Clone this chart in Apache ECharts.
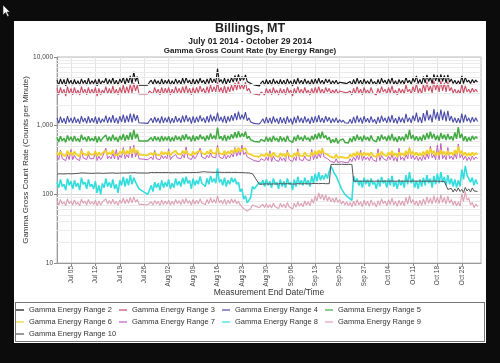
<!DOCTYPE html>
<html><head><meta charset="utf-8">
<script src="https://cdn.jsdelivr.net/npm/echarts@6/dist/echarts.min.js"></script>
<style>
html,body{margin:0;padding:0;background:#0c0c0c;width:500px;height:363px;overflow:hidden;}
#panel{position:absolute;left:14px;top:21px;width:472px;height:322px;background:#fff;}
#legbox{position:absolute;left:15px;top:302px;width:468px;height:38px;border:1px solid #777;}
#c{position:absolute;left:0;top:0;width:500px;height:363px;}
#cur{position:absolute;left:2px;top:4px;}
</style>
</head><body>
<div id="panel"></div><div id="legbox"></div>
<svg id="cur" width="10" height="14"><polygon points="1,1 1,11 3.5,8.5 5.5,12.5 7,11.8 5,8 8,8" fill="#fff" stroke="#222" stroke-width="0.6"/></svg>
<div id="c"></div>
<script>
const seriesNames = ['Gamma Energy Range 2','Gamma Energy Range 3','Gamma Energy Range 4','Gamma Energy Range 5','Gamma Energy Range 6','Gamma Energy Range 7','Gamma Energy Range 8','Gamma Energy Range 9','Gamma Energy Range 10'];
const seriesColors = ['#111111','#cc4d66','#4a4aa8','#44aa44','#f2d02a','#c060c0','#33dddd','#dda0b4','#555555'];
const seriesWidths = [1.1,1.1,1.1,1.5,1.8,1,1.6,1.1,1];
const seriesZ = [2,3,4,5,8,7,9,10,11];
const tickLabels = ['Jul 05','Jul 12','Jul 19','Jul 26','Aug 02','Aug 09','Aug 16','Aug 23','Aug 30','Sep 06','Sep 13','Sep 20','Sep 27','Oct 04','Oct 11','Oct 18','Oct 25'];
const yTicks = [10,100,1000,10000];
const minorGrid = [20,30,40,50,60,70,80,90,200,300,400,500,600,700,800,900,2000,3000,4000,5000,6000,7000,8000,9000];

// half-day samples starting Jul 01 2014 00:00
const r2 = [
4600,3900,4800,4000,4700,3800,4900,4100,4600,3900,
4700,4000,4500,3900,4800,4100,4600,3900,4900,4000,
4500,4100,4700,3800,4800,4000,4500,4200,4900,4000,
4700,4100,5000,4000,4600,3900,4800,4200,5100,4000,
4900,4200,5300,4100,6100,4400,5200,3900,null,null,
null,null,3900,4300,4600,4000,4700,4100,4500,3900,
4800,4000,4600,4100,4700,3900,4500,4000,4800,4100,
4600,4000,4900,4100,5000,4200,4600,3900,4800,4000,
4700,4100,4900,4200,4600,4000,4800,4100,5000,4200,
4800,4200,6800,4300,4700,4100,4900,4000,4800,4200,
5000,4300,5400,4400,5600,4500,5200,4600,5500,4400,
4600,4100,4300,3900,null,null,3800,4200,4500,3900,
4700,4000,4600,3900,4800,4100,4500,3900,4700,4000,
4600,3900,4800,4100,4500,3800,4700,4000,4900,4100,
4600,4000,4800,4100,4500,3900,4700,4000,4800,4100,
4900,4100,4600,4000,4800,4200,4700,4000,4500,4100,
4600,4000,4300,4100,4200,4000,4100,4000,4400,3900,
4700,4000,4900,4100,4600,3900,4800,4100,4500,4000,
4800,4100,4400,3900,4700,4000,4900,4200,4600,4000,
4800,4100,5000,4000,4500,3900,4700,4100,4600,4000,
5100,4200,4600,4000,4900,4300,5300,4100,4700,4000,
5200,4200,5500,4400,5100,4100,5600,4500,5400,4300,
5600,4400,5400,4200,5500,4300,4800,4100,4600,4000,
4500,4000,5300,4100,5100,4300,4600,4100,4700,4200,
4600,4300];
const r3 = [
3500,2800,3600,2900,3400,2700,3700,2900,3500,2800,
3600,2900,3300,2800,3700,3000,3400,2800,3600,2900,
3400,2900,3600,2700,3500,2800,3300,3000,3700,2900,
3500,2900,3800,2900,3400,2800,3600,3000,3900,2900,
3700,3000,4000,3000,4200,3200,3900,2900,null,null,
null,null,2900,3200,3400,2900,3600,3000,3400,2800,
3600,2900,3500,3000,3600,2800,3400,2900,3700,3000,
3500,2900,3700,3000,3800,3000,3500,2800,3600,2900,
3600,3000,3800,3100,3500,2900,3700,3000,3900,3100,
3700,3100,4300,3100,3600,3000,3800,2900,3700,3100,
3900,3200,4200,3300,4400,3400,4000,3400,4300,3200,
3500,3000,3200,2900,null,null,2800,3100,3300,2800,
3500,2900,3400,2800,3600,3000,3300,2800,3500,2900,
3400,2800,3600,3000,3300,2700,3500,2900,3700,3000,
3400,2900,3600,3000,3300,2800,3500,2900,3600,3000,
3700,3000,3400,2900,3600,3100,3500,2900,3300,3000,
3400,2900,3200,3000,3100,2900,3000,2900,3200,2800,
3500,2900,3700,3000,3400,2800,3600,3000,3300,2900,
3600,3000,3200,2800,3500,2900,3700,3100,3400,2900,
3600,3000,3800,2900,3300,2800,3500,3000,3400,2900,
3900,3100,3400,2900,3700,3100,4100,3000,3500,2900,
4000,3100,4400,3200,3800,3000,4500,3300,4100,3100,
4500,3200,4200,3100,4400,3200,3600,3000,3400,2900,
3300,2900,4000,3000,3800,3100,3400,3000,3500,3100,
3400,3100];
const r4 = [
1300,1080,1350,1100,1280,1060,1380,1120,1300,1090,
1340,1100,1260,1070,1380,1130,1290,1080,1360,1100,
1280,1110,1350,1060,1320,1090,1260,1130,1400,1100,
1330,1110,1420,1100,1300,1070,1370,1140,1450,1100,
1400,1130,1500,1120,1480,1180,1420,1100,null,null,
null,null,1080,1180,1280,1100,1340,1120,1290,1080,
1360,1100,1310,1120,1350,1080,1290,1100,1380,1130,
1300,1100,1400,1130,1420,1150,1320,1070,1370,1100,
1340,1130,1410,1160,1310,1100,1380,1120,1450,1160,
1380,1150,1550,1160,1340,1120,1390,1090,1360,1150,
1420,1180,1520,1200,1600,1230,1450,1240,1580,1180,
1300,1130,1200,1080,null,null,1060,1150,1260,1080,
1330,1090,1300,1070,1360,1120,1270,1060,1330,1090,
1300,1060,1370,1110,1270,1040,1340,1090,1400,1120,
1300,1090,1370,1120,1270,1060,1340,1100,1370,1120,
1420,1120,1300,1100,1380,1150,1330,1090,1270,1120,
1310,1100,1230,1120,1200,1100,1170,1090,1240,1070,
1340,1090,1400,1120,1310,1070,1380,1130,1280,1100,
1370,1120,1240,1060,1340,1100,1400,1150,1300,1100,
1370,1120,1430,1100,1290,1070,1350,1120,1310,1090,
1480,1140,1310,1100,1400,1170,1550,1120,1340,1100,
1520,1150,1680,1200,1450,1120,1750,1230,1580,1170,
1720,1200,1600,1150,1650,1180,1380,1120,1310,1100,
1280,1090,1500,1120,1450,1160,1300,1110,1330,1140,
1300,1150];
const r5 = [
680,580,700,600,660,570,720,610,690,590,
710,600,650,580,740,620,680,590,700,600,
660,600,700,570,690,590,650,610,730,600,
690,600,740,610,680,580,710,620,760,600,
730,620,800,620,870,650,760,600,null,null,
null,null,600,640,670,600,700,610,680,590,
710,600,690,610,700,590,680,600,720,620,
690,600,730,620,750,630,690,590,720,600,
700,620,740,640,690,600,720,620,770,640,
720,630,940,640,700,610,730,600,710,630,
750,650,800,660,830,680,770,690,820,650,
700,620,640,590,null,null,580,630,670,590,
690,590,670,580,710,610,660,580,700,600,
670,580,710,610,650,570,690,600,730,620,
680,600,720,620,670,590,710,620,750,640,
780,650,820,660,720,620,680,560,630,570,
660,550,610,580,640,570,600,560,660,580,
700,600,740,620,690,590,720,620,680,600,
720,620,650,580,700,600,740,630,690,600,
720,610,760,600,680,580,700,610,690,600,
760,630,870,640,730,610,700,600,690,600,
740,620,780,640,820,650,760,620,720,610,
780,640,740,620,760,630,700,610,800,640,
950,660,760,600,700,590,680,600,710,630,
690,650];
const r6 = [
410,370,420,380,400,360,430,380,410,370,
420,380,400,360,430,390,410,370,420,380,
400,380,420,360,410,370,400,390,430,380,
410,380,440,380,400,370,420,390,450,380,
430,390,460,390,480,400,440,380,null,null,
null,null,370,390,400,370,410,380,400,370,
420,380,410,380,420,370,400,380,430,390,
410,380,430,390,440,390,410,370,420,380,
410,390,430,400,410,380,420,390,450,400,
420,390,480,400,410,380,430,380,420,390,
440,400,460,410,480,420,450,430,470,400,
410,380,380,360,null,null,350,380,400,360,
400,360,390,350,410,370,390,350,400,360,
390,350,410,370,380,350,400,360,420,370,
390,360,410,370,390,360,410,370,430,380,
440,390,460,400,420,380,400,350,370,340,
380,340,360,350,370,340,350,340,380,350,
400,360,420,370,400,360,410,370,400,360,
410,370,380,350,400,360,420,380,400,360,
410,370,430,360,400,350,410,370,400,360,
430,380,470,380,420,370,410,360,400,360,
420,370,440,380,460,390,430,370,410,370,
440,380,420,370,430,380,410,370,440,380,
500,390,430,370,410,360,400,360,410,370,
400,380];
const r7 = [
360,320,440,330,350,310,380,320,450,320,
370,330,350,310,460,340,360,320,380,330,
350,330,430,310,360,320,350,340,470,330,
360,330,390,330,450,320,370,340,480,330,
380,340,500,340,520,350,420,330,null,null,
null,null,320,340,350,320,440,330,350,320,
370,330,360,330,460,320,350,330,380,340,
360,330,380,340,490,340,360,320,370,330,
360,340,470,350,360,330,370,340,400,350,
370,340,520,350,360,330,380,330,370,340,
390,350,480,360,420,370,520,380,410,350,
360,330,330,310,null,null,300,330,350,310,
350,310,430,300,360,320,340,300,350,310,
340,300,440,320,330,300,350,310,460,320,
340,310,360,320,340,310,450,320,380,330,
390,340,470,350,370,330,350,300,320,290,
330,290,310,300,320,290,300,290,330,300,
350,310,370,320,440,310,360,320,350,310,
360,320,330,300,460,310,370,330,350,310,
360,320,380,310,350,300,470,320,350,310,
380,330,480,330,370,320,360,310,350,310,
370,320,390,330,500,340,380,320,520,320,
550,330,370,320,480,330,360,320,390,330,
540,340,380,320,360,310,350,310,360,320,
350,330];
const r8 = [
150,125,165,130,140,115,170,135,155,120,
160,130,145,115,175,140,150,120,165,130,
140,120,155,105,135,100,145,125,170,130,
150,125,165,120,140,105,160,135,180,130,
170,135,190,140,175,150,160,120,null,null,
null,null,100,115,135,110,150,125,145,115,
160,125,150,130,165,120,145,125,170,135,
155,130,175,140,180,145,160,120,170,135,
160,140,180,145,155,130,170,140,185,150,
170,145,240,150,165,135,175,130,160,140,
175,150,170,140,150,110,120,85,95,75,
80,90,130,120,null,null,150,140,160,130,
165,135,155,125,170,140,150,120,165,130,
155,125,170,140,150,115,165,130,180,140,
160,135,175,140,160,130,185,145,200,155,
210,160,190,165,200,170,215,255,230,200,
185,160,140,120,115,100,100,90,88,82,
185,150,170,135,160,125,175,140,165,130,
170,140,150,120,165,130,180,145,160,125,
170,135,185,130,155,120,165,135,160,125,
190,140,210,145,170,125,160,120,165,130,
175,135,190,145,170,125,185,140,200,145,
210,150,180,135,190,140,170,130,165,125,
160,130,230,165,260,190,200,150,175,135,
165,140];
const r9 = [
80,70,84,72,78,68,86,73,80,70,
83,71,77,68,85,74,80,70,84,72,
78,71,82,68,80,70,77,73,86,72,
81,72,85,72,79,69,83,74,88,73,
86,74,90,75,92,77,84,72,null,null,
null,null,70,74,78,70,81,72,79,69,
83,71,80,72,82,70,79,71,84,73,
81,71,85,73,87,74,81,70,84,72,
82,73,86,75,80,71,84,73,89,75,
84,74,95,75,82,72,85,71,83,73,
86,75,84,73,80,70,72,62,64,57,
58,62,70,66,null,null,64,68,72,64,
73,64,71,63,75,66,70,62,74,65,
72,63,76,66,70,61,74,65,78,67,
74,66,80,70,78,68,86,74,95,80,
105,85,100,82,98,80,92,78,88,76,
90,76,84,72,80,70,78,68,76,66,
80,68,84,70,78,66,82,70,79,67,
83,70,76,65,81,69,86,73,80,68,
84,71,88,70,79,67,82,70,80,68,
90,72,96,74,84,70,80,68,82,69,
86,71,92,74,88,72,96,75,90,73,
98,76,90,72,94,74,84,70,80,68,
78,67,102,78,110,82,88,70,76,64,
72,66];
const r10 = [
198,196,199,197,198,196,200,197,199,198,
200,198,202,200,205,203,204,201,203,200,
202,200,203,201,204,201,202,200,203,201,
204,202,205,202,203,201,204,202,205,203,
205,203,206,204,207,204,205,203,null,null,
null,null,204,206,208,206,207,205,208,206,
207,205,208,206,207,205,206,204,207,205,
206,205,207,205,208,206,207,205,208,206,
208,206,210,212,214,212,211,209,210,208,
209,207,210,208,209,207,208,206,209,207,
208,206,209,207,208,206,207,205,206,204,
205,203,200,190,null,null,140,138,141,139,
142,140,141,139,142,140,141,139,143,141,
142,140,143,141,142,139,141,140,143,141,
142,140,143,141,142,140,143,141,144,142,
143,141,144,142,143,142,143,272,274,273,
274,273,275,274,273,272,274,273,274,273,
155,153,156,154,155,153,156,154,155,153,
156,154,155,153,156,154,155,153,156,154,
155,153,156,154,155,153,156,154,155,153,
156,154,155,153,156,154,155,153,156,154,
155,153,156,154,155,153,156,154,155,153,
155,153,154,152,118,112,122,108,120,110,
124,110,118,106,126,112,120,108,124,112,
118,110];
const seriesData = [r2,r3,r4,r5,r6,r7,r8,r9,r10];

// half-day category labels, Jul 01 2014 00h .. Oct 30 2014 12h
const MON = ['Jan','Feb','Mar','Apr','May','Jun','Jul','Aug','Sep','Oct','Nov','Dec'];
const categories = [];
for (let i = 0; i < 244; i++) {
  const d = new Date(Date.UTC(2014, 6, 1) + i * 43200000);
  const lab = MON[d.getUTCMonth()] + ' ' + String(d.getUTCDate()).padStart(2, '0');
  categories.push(d.getUTCHours() ? lab + ' 12h' : lab);
}
const isTick = (idx, val) => tickLabels.indexOf(val) >= 0;
const FONT = 'Liberation Sans';

const series = [{
  name: '_grid', type: 'line', data: [], silent: true, z: 1,
  markLine: {
    silent: true, symbol: ['none', 'none'], animation: false,
    label: {show: false},
    lineStyle: {color: '#ebebeb', width: 1, type: 'solid'},
    data: minorGrid.map(v => ({yAxis: v}))
  }
}];
seriesNames.forEach((n, i) => series.push({
  name: n, type: 'line', data: seriesData[i], showSymbol: false, symbol: 'none',
  connectNulls: true, sampling: 'none', z: seriesZ[i],
  lineStyle: {width: seriesWidths[i], color: seriesColors[i]},
  itemStyle: {color: seriesColors[i]}
}));

const chart = echarts.init(document.getElementById('c'), null, {renderer: 'canvas'});
chart.setOption({
  backgroundColor: 'transparent',
  animation: false,
  title: [
    {text: 'Billings, MT', left: 'center', top: 22.5, padding: 0,
     textStyle: {fontFamily: FONT, fontWeight: 'bold', fontSize: 12.5, color: '#222'}},
    {text: 'July 01 2014 - October 29 2014', left: 'center', top: 37, padding: 0,
     textStyle: {fontFamily: FONT, fontWeight: 'bold', fontSize: 8.5, color: '#222'}},
    {text: 'Gamma Gross Count Rate (by Energy Range)', left: 'center', top: 47, padding: 0,
     textStyle: {fontFamily: FONT, fontWeight: 'bold', fontSize: 8, color: '#222'}}
  ],
  grid: {left: 57, right: 19, top: 57, bottom: 100, show: true, borderColor: '#bbb', borderWidth: 1, backgroundColor: '#fff'},
  legend: {
    data: seriesNames, left: 16, top: 306, width: 440, padding: 0,
    icon: 'rect', itemWidth: 8, itemHeight: 1.2, itemGap: 4,
    textStyle: {fontFamily: FONT, fontSize: 7.5, color: '#333', width: 86, lineHeight: 8}
  },
  xAxis: {
    type: 'category', data: categories, boundaryGap: false,
    name: 'Measurement End Date/Time', nameLocation: 'middle', nameGap: 25, nameMoveOverlap: false,
    nameTextStyle: {fontFamily: FONT, fontSize: 8.5, color: '#333'},
    axisLine: {lineStyle: {color: '#999'}},
    axisTick: {show: true, interval: isTick, length: 3, lineStyle: {color: '#888'}},
    axisLabel: {interval: isTick, rotate: 90, margin: 3, fontFamily: FONT, fontSize: 6.5, color: '#444'},
    splitLine: {show: true, interval: isTick, lineStyle: {color: '#e2e2e2', width: 1}}
  },
  yAxis: {
    type: 'log', logBase: 10, min: yTicks[0], max: yTicks[yTicks.length - 1],
    name: 'Gamma Gross Count Rate (Counts per Minute)', nameLocation: 'middle', nameGap: 27, nameMoveOverlap: false,
    nameTextStyle: {fontFamily: FONT, fontSize: 8, color: '#333'},
    axisLine: {show: true, lineStyle: {color: '#999'}},
    axisTick: {show: true, length: 3, lineStyle: {color: '#888'}},
    axisLabel: {margin: 4, fontFamily: FONT, fontSize: 6.5, color: '#444',
      formatter: v => String(Math.round(v)).replace(/\B(?=(\d{3})+(?!\d))/g, ',')},
    splitLine: {show: true, lineStyle: {color: '#d8d8d8', width: 1}}
  },
  series: series
});
</script>
</body></html>
